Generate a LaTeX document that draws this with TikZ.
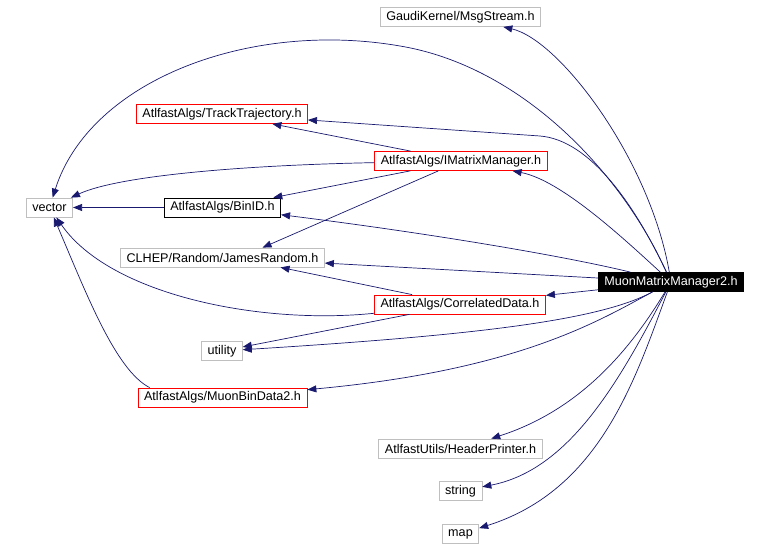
\documentclass[tikz,border=0pt]{standalone}
\usepackage{fontspec}
\setmainfont{Liberation Sans}
\usepackage{tikz}
\usetikzlibrary{arrows.meta}
\usetikzlibrary{positioning}
\definecolor{edgeblue}{HTML}{191970}
\definecolor{boxgrey}{HTML}{BFBFBF}
\tikzset{
	hdr/.style={draw, rectangle, line width=0.8pt, inner xsep=6pt, inner ysep=0pt,
		minimum height=19pt, fill=white, font=\fontsize{12.6}{14}\selectfont},
	sysheader/.style={hdr, draw=boxgrey},
	linkheader/.style={hdr, draw=red},
	plainheader/.style={hdr, draw=black},
	rootheader/.style={hdr, draw=black, fill=black, text=white},
	include/.style={draw=edgeblue, line width=0.7pt,
		-{Triangle[length=9pt,width=7pt,fill=edgeblue]}},
}
\begin{document}
\begin{tikzpicture}[x=1pt, y=-1pt]
		\useasboundingbox[fill=white] (0,0) rectangle (769,546);
		% headers
		\node[sysheader] (msg) at (460.5,17) {GaudiKernel/MsgStream.h};
		\node[linkheader] (track) at (222,114) {AtlfastAlgs/TrackTrajectory.h};
		\node[linkheader] (imm) at (461,161) {AtlfastAlgs/IMatrixManager.h};
		\node[sysheader] (vector) at (49.5,207.5) {vector};
		\node[plainheader] (binid) at (222.5,207.5) {AtlfastAlgs/BinID.h};
		\node[sysheader] (james) at (222.5,257.5) {CLHEP/Random/JamesRandom.h};
		\node[rootheader] (mmm) at (671,282) {MuonMatrixManager2.h};
		\node[linkheader] (corr) at (460,304.5) {AtlfastAlgs/CorrelatedData.h};
		\node[sysheader] (utility) at (222,351) {utility};
		\node[linkheader] (mbd) at (222.5,397.5) {AtlfastAlgs/MuonBinData2.h};
		\node[sysheader] (header) at (460.5,448.5) {AtlfastUtils/HeaderPrinter.h};
		\node[sysheader] (string) at (460.5,491) {string};
		\node[sysheader] (map) at (460.5,534) {map};
		% includes of MuonMatrixManager2.h
		\draw[include] (mmm) .. controls (650,160) and (560,40) .. (msg);
		\draw[include] (mmm) .. controls (620,170) and (520,66) .. (400,46)
			.. controls (250,20) and (90,80) .. (vector);
		\draw[include] (mmm) .. controls (635,205) and (590,140) .. (540,136) -- (track);
		\draw[include] (mmm) .. controls (620,235) and (560,180) .. (imm);
		\draw[include] (mmm) .. controls (560,255) and (420,232) .. (binid);
		\draw[include] (mmm) -- (james);
		\draw[include] (mmm) -- (corr);
		\draw[include] (mmm) .. controls (600,320) and (480,335) .. (utility);
		\draw[include] (mmm) .. controls (600,320) and (520,370) .. (mbd);
		\draw[include] (mmm) .. controls (630,350) and (580,410) .. (header);
		\draw[include] (mmm) .. controls (620,380) and (570,470) .. (string);
		\draw[include] (mmm) .. controls (635,380) and (600,490) .. (map);
		% nested includes
		\draw[include] (imm) -- (track);
		\draw[include] (imm) .. controls (250,165) and (120,175) .. (vector);
		\draw[include] (imm) -- (binid);
		\draw[include] (imm) -- ([xshift=40pt]james.north);
		\draw[include] (binid) -- (vector);
		\draw[include] (corr) -- ([xshift=58pt]james.south);
		\draw[include] (corr) .. controls (260,325) and (110,295) .. (vector);
		\draw[include] (corr) -- (utility);
		\draw[include] ([xshift=12pt]mbd.north west) .. controls (115,370) and (85,290) .. (vector);
\end{tikzpicture}
\end{document}
